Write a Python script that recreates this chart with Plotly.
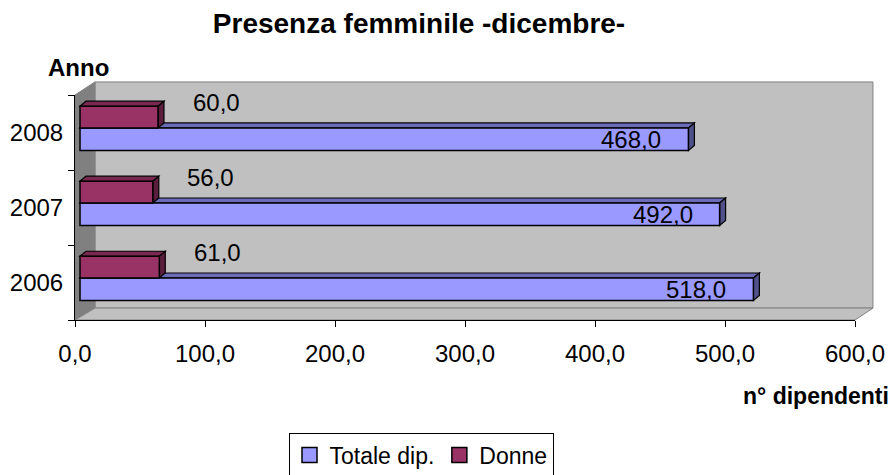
import plotly.graph_objects as go

years = ["2006", "2007", "2008"]
totale = [518.0, 492.0, 468.0]
donne = [61.0, 56.0, 60.0]
x_ticks = [0, 100, 200, 300, 400, 500, 600]

idx = list(range(len(years)))
FONT = "Liberation Sans, Arial, sans-serif"
C_TOT, C_DON = "#9999FF", "#993366"

W_T, OFF_T = 0.30, -0.24
W_D, OFF_D = 0.29, 0.06
DX, DY = 4.6, 0.067  # depth of the bar faces (data units)

L, R, T, B = 75, 41, 95, 155
pw, ph = 896 - L - R, 475 - T - B


def px_to_paper(px, py):
    return (px - L) / pw, (475 - B - py) / ph


fig = go.Figure()
# empty trace so that the primary x axis (with ticks) is drawn
fig.add_trace(go.Scatter(x=[None], y=[None], showlegend=False, hoverinfo="skip"))
fig.add_trace(go.Bar(
    y=idx, x=totale, orientation="h", name="Totale dip.", showlegend=False,
    width=W_T, offset=OFF_T, xaxis="x2",
    marker=dict(color=C_TOT, line=dict(color="black", width=1.5)),
))
fig.add_trace(go.Bar(
    y=idx, x=donne, orientation="h", name="Donne", showlegend=False,
    width=W_D, offset=OFF_D, xaxis="x2",
    marker=dict(color=C_DON, line=dict(color="black", width=1.5)),
))
# legend entries with larger square swatches
for name, col in (("Totale dip.", C_TOT), ("Donne", C_DON)):
    fig.add_trace(go.Scatter(
        x=[None], y=[None], mode="markers", name=name, hoverinfo="skip",
        marker=dict(symbol="square", size=15, color=col, line=dict(color="black", width=1.5)),
    ))

shapes = []
wall = dict(xref="paper", yref="paper", layer="below", line=dict(color="#808080", width=1))
shapes.append(dict(type="path", path="M0.0256,1.058 L1.023,1.058 L1.023,0.053 L0.0256,0.053 Z",
                   fillcolor="#C0C0C0", **wall))
shapes.append(dict(type="path", path="M0,1 L0.0256,1.058 L0.0256,0.053 L0,0 Z",
                   fillcolor="#808080", **wall))
shapes.append(dict(type="path", path="M0,0 L0.0256,0.053 L1.023,0.053 L1,0 Z",
                   fillcolor="#C0C0C0", **wall))


def faces(vals, off, w, top_col, side_col):
    out = []
    for i, v in zip(idx, vals):
        y0 = i + off
        y1 = y0 + w
        top = f"M0,{y1} L{v},{y1} L{v+DX},{y1+DY} L{DX},{y1+DY} Z"
        side = f"M{v},{y0} L{v},{y1} L{v+DX},{y1+DY} L{v+DX},{y0+DY} Z"
        for p, c in ((top, top_col), (side, side_col)):
            out.append(dict(type="path", path=p, xref="x2", yref="y", layer="below",
                            fillcolor=c, line=dict(color="black", width=1.2)))
    return out


shapes += faces(totale, OFF_T, W_T, "#6B6BB8", "#50508A")
shapes += faces(donne, OFF_D, W_D, "#7A2852", "#5A1D3C")

annotations = []
for i, v in zip(idx, donne):
    annotations.append(dict(x=v, y=i + 0.40, xref="x2", yref="y", xshift=58,
                            text=f"{v:.1f}".replace(".", ","), showarrow=False,
                            font=dict(family=FONT, size=24, color="black")))
for i, v in zip(idx, totale):
    annotations.append(dict(x=v, y=i + OFF_T + W_T / 2, xref="x2", yref="y", xshift=-25,
                            xanchor="right", text=f"{v:.1f}".replace(".", ","), showarrow=False,
                            font=dict(family=FONT, size=24, color="black")))
ax, ay = px_to_paper(46, 68)
annotations.append(dict(x=ax, y=ay, xref="paper", yref="paper", text="<b>Anno</b>",
                        xanchor="left", yanchor="middle", showarrow=False,
                        font=dict(family=FONT, size=24, color="black")))
bx, by = px_to_paper(891, 396)
annotations.append(dict(x=bx, y=by, xref="paper", yref="paper", text="<b>n° dipendenti</b>",
                        xanchor="right", yanchor="middle", showarrow=False,
                        font=dict(family=FONT, size=23, color="black")))

fig.update_layout(
    width=896, height=475,
    margin=dict(l=L, r=R, t=T, b=B, autoexpand=False),
    paper_bgcolor="white", plot_bgcolor="rgba(0,0,0,0)",
    separators=",.",
    font=dict(family=FONT, size=24, color="black"),
    title=dict(text="<b>Presenza femminile -dicembre-</b>", x=419 / 896, xref="container",
               xanchor="center", y=1 - 23 / 475, yref="container", yanchor="middle",
               font=dict(family=FONT, size=28, color="black")),
    xaxis=dict(range=[0, 600], tickvals=x_ticks, tickformat=".1f", ticks="outside",
               ticklen=6, tickcolor="black", showline=True, linecolor="black", linewidth=1,
               showgrid=False, zeroline=False, ticklabelstandoff=6, automargin=False,
               tickfont=dict(family=FONT, size=24, color="black")),
    xaxis2=dict(range=[-3.85, 596.15], overlaying="x", visible=False, automargin=False),
    yaxis=dict(range=[-0.5, 2.5], tickvals=idx, ticktext=years, ticks="outside", ticklen=0,
               showline=True, linecolor="black", linewidth=1, showgrid=False, zeroline=False,
               ticklabelstandoff=6, automargin=False,
               tickfont=dict(family=FONT, size=24, color="black"),
               minor=dict(tick0=-0.5, dtick=1, ticks="outside", ticklen=6, tickcolor="black")),
    showlegend=True,
    legend=dict(orientation="h", x=421 / 896, xref="container", xanchor="center",
                y=1 - 455 / 475, yref="container", yanchor="middle",
                bgcolor="white", bordercolor="black", borderwidth=1,
                font=dict(family=FONT, size=23, color="black"), itemwidth=30,
                tracegroupgap=0),
    shapes=shapes,
    annotations=annotations,
)

fig.write_html("out.html", config={"displayModeBar": False},
               post_script="document.body.style.margin='0';")
